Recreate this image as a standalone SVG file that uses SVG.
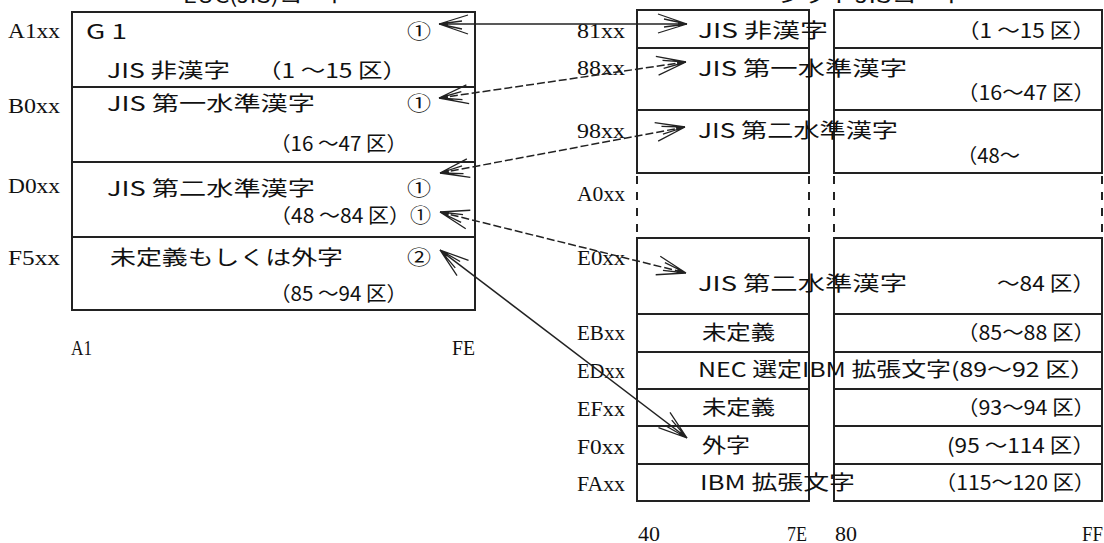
<svg xmlns="http://www.w3.org/2000/svg" width="1104" height="543" viewBox="0 0 1104 543">
<style>
.bx{fill:none;stroke:#222;stroke-width:2}
.ln{stroke:#222;stroke-width:2}
.ds{stroke:#222;stroke-width:2;stroke-dasharray:8 8}
.t{font-family:"Noto Sans CJK JP","Liberation Sans",sans-serif;font-size:20px;fill:#111}
.l{font-family:"Liberation Serif","Noto Sans CJK JP",serif;font-size:20px;fill:#111}
.c{stroke:#222;stroke-width:1.5;fill:none}
.cd{stroke:#222;stroke-width:1.5;fill:none;stroke-dasharray:8 3}
</style>
<defs>
<marker id="ah" viewBox="-32 -13 34 26" refX="0" refY="0" markerWidth="34" markerHeight="26" markerUnits="userSpaceOnUse" orient="auto-start-reverse">
<path d="M0,0 L-29,-10 M0,0 L-23,-5 M0,0 L-29,9 M0,0 L-23,3" stroke="#222" stroke-width="1.3" fill="none"/>
<path d="M0,0 L-9,-2.5 L-9,2.5 Z" fill="#222"/>
</marker>
</defs>

<text class="t" x="183" y="3" textLength="167" lengthAdjust="spacingAndGlyphs">EUC(JIS)コード</text>
<text class="t" x="778" y="3" textLength="190" lengthAdjust="spacingAndGlyphs">シフトJISコード</text>

<g id="left-map">
<rect class="bx" x="72" y="12" width="403" height="298"/>
<line class="ln" x1="72" y1="87" x2="475" y2="87"/>
<line class="ln" x1="72" y1="162" x2="475" y2="162"/>
<line class="ln" x1="72" y1="237" x2="475" y2="237"/>
</g>
<g id="left-a1">
<text class="l" x="8" y="38" textLength="52" lengthAdjust="spacingAndGlyphs">A1xx</text>
<text class="t" x="86" y="39" textLength="41" lengthAdjust="spacingAndGlyphs">G 1</text>
<text class="t" x="407" y="39" textLength="24" lengthAdjust="spacingAndGlyphs">①</text>
<text class="t" x="107" y="78" textLength="123" lengthAdjust="spacingAndGlyphs">JIS 非漢字</text>
<text class="t" x="257" y="78" textLength="150" lengthAdjust="spacingAndGlyphs">（1 ～15 区）</text>
</g>
<g id="left-b0">
<text class="l" x="8" y="113" textLength="52" lengthAdjust="spacingAndGlyphs">B0xx</text>
<text class="t" x="107" y="111" textLength="208" lengthAdjust="spacingAndGlyphs">JIS 第一水準漢字</text>
<text class="t" x="407" y="111" textLength="24" lengthAdjust="spacingAndGlyphs">①</text>
<text class="t" x="270" y="151" textLength="137" lengthAdjust="spacingAndGlyphs">（16 ～47 区）</text>
</g>
<g id="left-d0">
<text class="l" x="8" y="193" textLength="52" lengthAdjust="spacingAndGlyphs">D0xx</text>
<text class="t" x="107" y="196" textLength="208" lengthAdjust="spacingAndGlyphs">JIS 第二水準漢字</text>
<text class="t" x="407" y="196" textLength="24" lengthAdjust="spacingAndGlyphs">①</text>
<text class="t" x="270" y="223" textLength="161" lengthAdjust="spacingAndGlyphs">（48 ～84 区）①</text>
</g>
<g id="left-f5">
<text class="l" x="8" y="265" textLength="52" lengthAdjust="spacingAndGlyphs">F5xx</text>
<text class="t" x="110" y="265" textLength="233" lengthAdjust="spacingAndGlyphs">未定義もしくは外字</text>
<text class="t" x="407" y="265" textLength="24" lengthAdjust="spacingAndGlyphs">②</text>
<text class="t" x="270" y="301" textLength="137" lengthAdjust="spacingAndGlyphs">（85 ～94 区）</text>
</g>
<g id="left-axis">
<text class="l" x="71" y="355" textLength="21" lengthAdjust="spacingAndGlyphs">A1</text>
<text class="l" x="452" y="355" textLength="23" lengthAdjust="spacingAndGlyphs">FE</text>
</g>

<g id="right-map">
<rect class="bx" x="637" y="10" width="172" height="163"/>
<rect class="bx" x="834" y="10" width="268" height="163"/>
<line class="ln" x1="637" y1="48" x2="809" y2="48"/>
<line class="ln" x1="834" y1="48" x2="1102" y2="48"/>
<line class="ln" x1="637" y1="110" x2="809" y2="110"/>
<line class="ln" x1="834" y1="110" x2="1102" y2="110"/>
<line class="ds" x1="637" y1="176" x2="637" y2="236"/>
<line class="ds" x1="809" y1="176" x2="809" y2="236"/>
<line class="ds" x1="834" y1="176" x2="834" y2="236"/>
<line class="ds" x1="1102" y1="176" x2="1102" y2="236"/>
<rect class="bx" x="637" y="238" width="172" height="263"/>
<rect class="bx" x="834" y="238" width="268" height="263"/>
<line class="ln" x1="637" y1="314" x2="809" y2="314"/>
<line class="ln" x1="834" y1="314" x2="1102" y2="314"/>
<line class="ln" x1="637" y1="352" x2="809" y2="352"/>
<line class="ln" x1="834" y1="352" x2="1102" y2="352"/>
<line class="ln" x1="637" y1="389" x2="809" y2="389"/>
<line class="ln" x1="834" y1="389" x2="1102" y2="389"/>
<line class="ln" x1="637" y1="426" x2="809" y2="426"/>
<line class="ln" x1="834" y1="426" x2="1102" y2="426"/>
<line class="ln" x1="637" y1="464" x2="809" y2="464"/>
<line class="ln" x1="834" y1="464" x2="1102" y2="464"/>
</g>
<g id="right-81">
<text class="l" x="577" y="38" textLength="48" lengthAdjust="spacingAndGlyphs">81xx</text>
<text class="t" x="698" y="38" textLength="130" lengthAdjust="spacingAndGlyphs">JIS 非漢字</text>
<text class="t" x="957" y="38" textLength="138" lengthAdjust="spacingAndGlyphs">（1 ～15 区）</text>
</g>
<g id="right-88">
<text class="l" x="577" y="75" textLength="48" lengthAdjust="spacingAndGlyphs">88xx</text>
<text class="t" x="698" y="76" textLength="209" lengthAdjust="spacingAndGlyphs">JIS 第一水準漢字</text>
<text class="t" x="957" y="100" textLength="138" lengthAdjust="spacingAndGlyphs">（16～47 区）</text>
</g>
<g id="right-98">
<text class="l" x="577" y="138" textLength="48" lengthAdjust="spacingAndGlyphs">98xx</text>
<text class="t" x="698" y="138" textLength="200" lengthAdjust="spacingAndGlyphs">JIS 第二水準漢字</text>
<text class="t" x="957" y="163" textLength="63" lengthAdjust="spacingAndGlyphs">（48～</text>
</g>
<g id="right-a0">
<text class="l" x="577" y="201" textLength="48" lengthAdjust="spacingAndGlyphs">A0xx</text>
</g>
<g id="right-e0">
<text class="l" x="577" y="265" textLength="48" lengthAdjust="spacingAndGlyphs">E0xx</text>
<text class="t" x="698" y="291" textLength="209" lengthAdjust="spacingAndGlyphs">JIS 第二水準漢字</text>
<text class="t" x="997" y="291" textLength="98" lengthAdjust="spacingAndGlyphs">～84 区）</text>
</g>
<g id="right-eb">
<text class="l" x="577" y="340" textLength="48" lengthAdjust="spacingAndGlyphs">EBxx</text>
<text class="t" x="702" y="340" textLength="73" lengthAdjust="spacingAndGlyphs">未定義</text>
<text class="t" x="957" y="340" textLength="138" lengthAdjust="spacingAndGlyphs">（85～88 区）</text>
</g>
<g id="right-ed">
<text class="l" x="577" y="378" textLength="48" lengthAdjust="spacingAndGlyphs">EDxx</text>
<text class="t" x="698" y="377" textLength="397" lengthAdjust="spacingAndGlyphs">NEC 選定IBM 拡張文字(89～92 区）</text>
</g>
<g id="right-ef">
<text class="l" x="577" y="416" textLength="48" lengthAdjust="spacingAndGlyphs">EFxx</text>
<text class="t" x="702" y="415" textLength="73" lengthAdjust="spacingAndGlyphs">未定義</text>
<text class="t" x="957" y="415" textLength="138" lengthAdjust="spacingAndGlyphs">（93～94 区）</text>
</g>
<g id="right-f0">
<text class="l" x="577" y="454" textLength="48" lengthAdjust="spacingAndGlyphs">F0xx</text>
<text class="t" x="702" y="453" textLength="48" lengthAdjust="spacingAndGlyphs">外字</text>
<text class="t" x="947" y="453" textLength="148" lengthAdjust="spacingAndGlyphs">(95 ～114 区）</text>
</g>
<g id="right-fa">
<text class="l" x="577" y="491" textLength="48" lengthAdjust="spacingAndGlyphs">FAxx</text>
<text class="t" x="700" y="490" textLength="155" lengthAdjust="spacingAndGlyphs">IBM 拡張文字</text>
<text class="t" x="935" y="490" textLength="160" lengthAdjust="spacingAndGlyphs">（115～120 区）</text>
</g>
<g id="right-axis">
<text class="l" x="638" y="541" textLength="22" lengthAdjust="spacingAndGlyphs">40</text>
<text class="l" x="787" y="541" textLength="20" lengthAdjust="spacingAndGlyphs">7E</text>
<text class="l" x="835" y="541" textLength="22" lengthAdjust="spacingAndGlyphs">80</text>
<text class="l" x="1082" y="541" textLength="21" lengthAdjust="spacingAndGlyphs">FF</text>
</g>

<g id="connectors">
<line class="c" x1="439" y1="24" x2="687" y2="24" marker-start="url(#ah)" marker-end="url(#ah)"/>
<line class="cd" x1="439" y1="98" x2="686" y2="62" marker-start="url(#ah)" marker-end="url(#ah)"/>
<line class="cd" x1="440" y1="173" x2="685" y2="127" marker-start="url(#ah)" marker-end="url(#ah)"/>
<line class="cd" x1="440" y1="212" x2="686" y2="273" marker-start="url(#ah)" marker-end="url(#ah)"/>
<line class="c" x1="440" y1="250" x2="687" y2="438" marker-start="url(#ah)" marker-end="url(#ah)"/>
</g>
</svg>
